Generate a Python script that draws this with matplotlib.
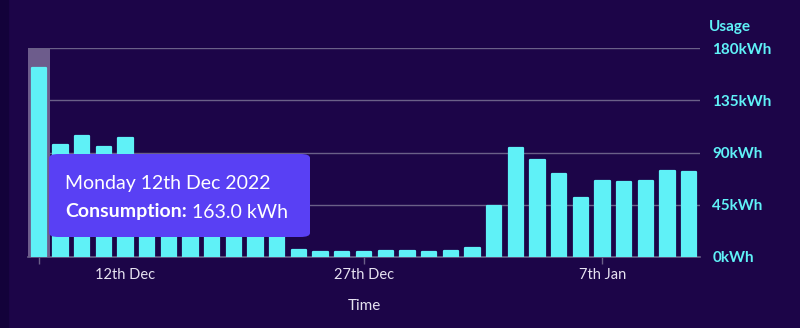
import matplotlib
matplotlib.use("Agg")
from matplotlib import pyplot as plt
from matplotlib.patches import FancyBboxPatch, Rectangle

# daily consumption from 12th Dec 2022, kWh
days = list(range(31))
usage = [163.0, 96.2, 104.6, 94.8, 102.9, 84.0, 80.0, 78.0, 82.0, 76.0,
         80.0, 74.0, 5.8, 4.0, 4.0, 4.0, 4.9, 4.9, 4.3, 5.5,
         8.1, 44.2, 93.9, 83.5, 71.4, 51.1, 65.6, 64.5, 65.6, 73.7, 72.8]
tick_pos = [0, 15, 26]
label_pos = [4, 15, 26]
tick_labels = ["12th Dec", "27th Dec", "7th Jan"]
y_ticks = [0, 45, 90, 135, 180]

bg = "#1c0548"
cyan = "#5ff1f7"
grid_col = "#6a6088"
font = "Lato"

fig = plt.figure(figsize=(8, 3.28), dpi=100, facecolor=bg)
# darker strip on the left edge
fig.patches.append(Rectangle((0, 0), 8 / 800, 1, transform=fig.transFigure,
                             color="#13023a", zorder=0))
ax = fig.add_axes([28 / 800, 71 / 328, 672 / 800, 209 / 328])
ax.set_facecolor(bg)

# highlighted hover column
ax.axvspan(-0.5, 0.5, color="#6d5c8c", zorder=1, lw=0)
ax.bar(days, usage, width=0.66, color=cyan, edgecolor=cyan, linewidth=1.6,
       joinstyle="round", zorder=3)

ax.set_xlim(-0.5, 30.5)
ax.set_ylim(0, 180)
for y in y_ticks[1:]:
    ax.axhline(y, color=grid_col, lw=1, zorder=2)

for s in ["top", "left", "right"]:
    ax.spines[s].set_visible(False)
ax.spines["bottom"].set_color(grid_col)
ax.spines["bottom"].set_linewidth(1.2)

ax.yaxis.tick_right()
ax.set_yticks(y_ticks, [f"{v}kWh" for v in y_ticks])
ax.tick_params(axis="y", length=0, pad=9, labelcolor=cyan, labelsize=11)
for lab in ax.get_yticklabels():
    lab.set_fontfamily(font)
    lab.set_fontweight("bold")

ax.xaxis.remove_overlapping_locs = False
ax.set_xticks(label_pos, tick_labels)
ax.tick_params(axis="x", length=0, pad=8, labelcolor="#e6e2f0", labelsize=10.5)
for lab in ax.get_xticklabels():
    lab.set_fontfamily(font)
ax.set_xticks(tick_pos, minor=True)
ax.tick_params(axis="x", which="minor", length=5, color=grid_col, width=1)

ax.set_xlabel("Time", color="#e6e2f0", fontsize=11, fontfamily=font, labelpad=12)
ax.text(1.013, 1.1, "Usage", transform=ax.transAxes, color=cyan, fontsize=11,
        fontweight="bold", fontfamily=font, va="center", ha="left")

# tooltip
tip = FancyBboxPatch((49 / 800, (328 - 237) / 328), 261 / 800, 83 / 328,
                     boxstyle="round,pad=0,rounding_size=0.012",
                     transform=fig.transFigure, facecolor="#5940f4",
                     edgecolor="none", zorder=5)
fig.patches.append(tip)
fig.text(65 / 800, (328 - 184) / 328, "Monday 12th Dec 2022", color="white",
         fontsize=14, fontfamily=font, va="center", zorder=6)
t = fig.text(65 / 800, (328 - 212) / 328, "Consumption:", color="white",
             fontsize=14, fontfamily=font, fontweight="bold", va="center", zorder=6)
fig.canvas.draw()
bb = t.get_window_extent()
fig.text(bb.x1 / 800 + 5 / 800, (328 - 212) / 328, f"{usage[0]:.1f} kWh",
         color="white", fontsize=14, fontfamily=font, va="center", zorder=6)

fig.savefig("out.png", dpi=100, facecolor=bg)
